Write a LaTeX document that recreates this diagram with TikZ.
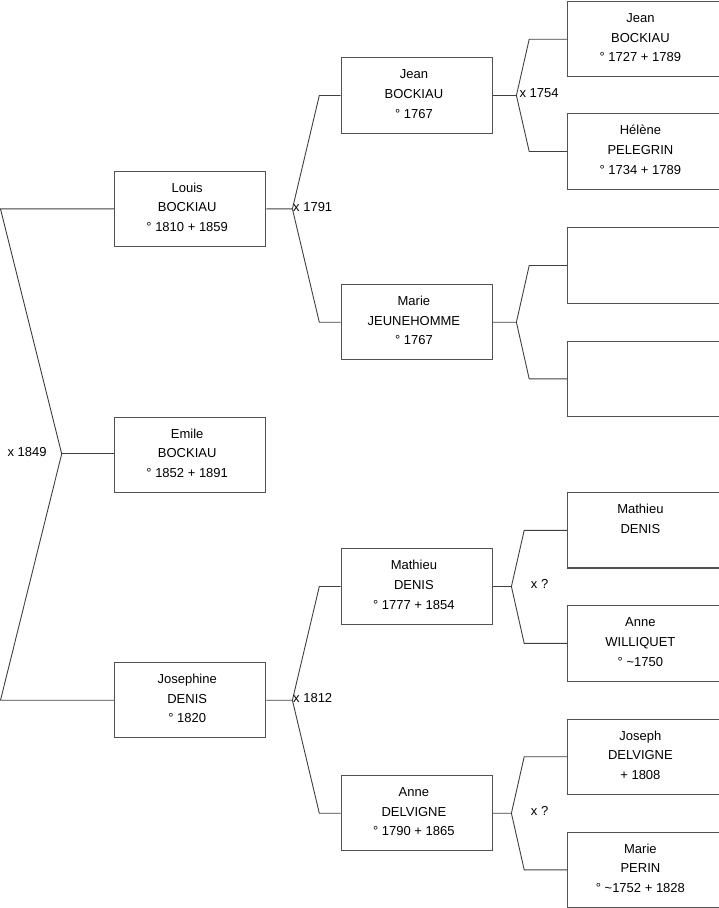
\documentclass[tikz,border=0pt]{standalone}
\usepackage{fontspec}
\setmainfont{Liberation Sans}
\usetikzlibrary{calc}
\newcommand\persontext[1]{\parbox[c][75.3pt][t]{151.3pt}{\centering\rightskip=6pt plus 1fil\relax\fontsize{13}{19.7}\selectfont\vspace*{7.2pt}\strut#1}}
\tikzset{
  person/.style={draw=black!68, line width=1.1pt, rectangle, inner sep=0pt, anchor=north west},
  conn/.style={draw=black!75, line width=0.9pt},
  lbl/.style={inner sep=0pt, anchor=base west, font=\fontsize{13}{15}\selectfont}
}
\begin{document}
\begin{tikzpicture}[x=1pt,y=-1pt]
\useasboundingbox (0,0) rectangle (719,908);
% generation 1
\node[person] (louis) at (114,170.7) {\persontext{Louis\\BOCKIAU\\° 1810 + 1859}};
\node[person] (emile) at (114,416.7) {\persontext{Emile\\BOCKIAU\\° 1852 + 1891}};
\node[person] (josephine) at (114,662) {\persontext{Josephine\\DENIS\\° 1820}};
% generation 2
\node[person] (jeanB) at (340.7,57.3) {\persontext{Jean\\BOCKIAU\\° 1767}};
\node[person] (marieJ) at (340.7,284) {\persontext{Marie\\JEUNEHOMME\\° 1767}};
\node[person] (mathieu) at (340.7,548.3) {\persontext{Mathieu\\DENIS\\° 1777 + 1854}};
\node[person] (anneD) at (340.7,775) {\persontext{Anne\\DELVIGNE\\° 1790 + 1865}};
% generation 3
\node[person] (g1) at (567.2,1) {\persontext{Jean\\BOCKIAU\\° 1727 + 1789}};
\node[person] (g2) at (567.2,113.3) {\persontext{Hélène\\PELEGRIN\\° 1734 + 1789}};
\node[person] (g3) at (567.2,227.3) {\persontext{}};
\node[person] (g4) at (567.2,340.7) {\persontext{}};
\node[person] (g5) at (567.2,492.1) {\persontext{Mathieu\\DENIS}};
\node[person] (g6) at (567.2,605.2) {\persontext{Anne\\WILLIQUET\\° \textasciitilde1750}};
\node[person] (g7) at (567.2,718.5) {\persontext{Joseph\\DELVIGNE\\+ 1808}};
\node[person] (g8) at (567.2,831.6) {\persontext{Marie\\PERIN\\° \textasciitilde1752 + 1828}};
% left connector
\coordinate (apex) at ($(emile.west)+(-52.3,-1)$);
\draw[conn] (louis.west) -- ($(louis.west)+(-113.5,0)$) -- (apex) -- ($(josephine.west)+(-113.5,0)$) -- (josephine.west);
\draw[conn] (apex) -- ($(emile.west)+(0,-1)$);
% generation 1 -> 2
\coordinate (jl) at ($(louis.east)+(26,0)$);
\draw[conn] (louis.east) -- (jl) -- ($(jeanB.west)+(-21.4,0)$) -- (jeanB.west);
\draw[conn] (jl) -- ($(marieJ.west)+(-21.4,0)$) -- (marieJ.west);
\coordinate (jj) at ($(josephine.east)+(26,0)$);
\draw[conn] (josephine.east) -- (jj) -- ($(mathieu.west)+(-21.4,0)$) -- (mathieu.west);
\draw[conn] (jj) -- ($(anneD.west)+(-21.4,0)$) -- (anneD.west);
% generation 2 -> 3
\coordinate (jb) at ($(jeanB.east)+(23.3,0)$);
\draw[conn] (jeanB.east) -- (jb) -- ($(g1.west)+(-38,0)$) -- (g1.west);
\draw[conn] (jb) -- ($(g2.west)+(-38,0)$) -- (g2.west);
\coordinate (jm) at ($(marieJ.east)+(23.3,0)$);
\draw[conn] (marieJ.east) -- (jm) -- ($(g3.west)+(-38,0)$) -- (g3.west);
\draw[conn] (jm) -- ($(g4.west)+(-38,0)$) -- (g4.west);
\coordinate (jd) at ($(mathieu.east)+(18.3,0)$);
\draw[conn] (mathieu.east) -- (jd) -- ($(g5.west)+(-43,0)$) -- (g5.west);
\draw[conn] (jd) -- ($(g6.west)+(-43,0)$) -- (g6.west);
\coordinate (ja) at ($(anneD.east)+(18.3,0)$);
\draw[conn] (anneD.east) -- (ja) -- ($(g7.west)+(-43,0)$) -- (g7.west);
\draw[conn] (ja) -- ($(g8.west)+(-43,0)$) -- (g8.west);
% marriage labels
\node[lbl] (m1849) at (7.3,456) {x 1849};
\node[lbl] (m1791) at (293,211.7) {x 1791};
\node[lbl] (m1812) at (293,702.7) {x 1812};
\node[lbl] (m1754) at (519.3,97.3) {x 1754};
\node[lbl] (mq1) at (530.7,588.3) {x ?};
\node[lbl] (mq2) at (530.7,815) {x ?};
\end{tikzpicture}
\end{document}
